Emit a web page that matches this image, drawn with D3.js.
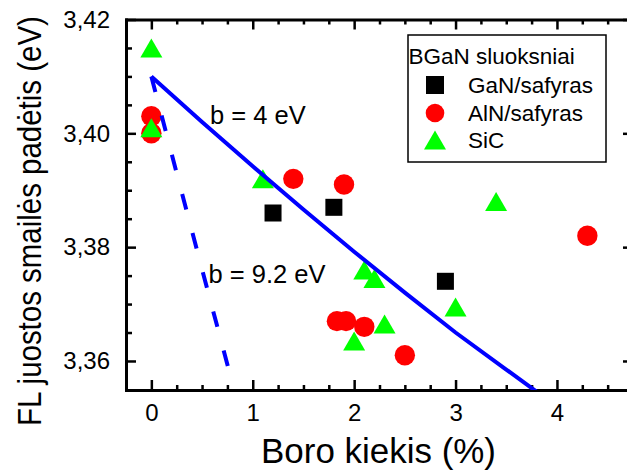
<!DOCTYPE html>
<html>
<head>
<meta charset="utf-8">
<script src="https://cdn.jsdelivr.net/npm/d3@7"></script>
<style>
  html, body { margin: 0; padding: 0; background: #fff; }
  svg { display: block; font-family: "Liberation Sans", Arial, sans-serif; }
</style>
</head>
<body>
<svg id="chart" width="627" height="470"></svg>
<script>
// Axis ticks and labels
const xTicks = [0, 1, 2, 3, 4];
const xTickLabels = ["0", "1", "2", "3", "4"];
const yTicks = [3.36, 3.38, 3.40, 3.42];
const yTickLabels = ["3,36", "3,38", "3,40", "3,42"];

// Measured band-edge PL peak positions (boron content %, eV)
const ganX = [1.2, 1.8, 2.9];
const ganY = [3.386, 3.387, 3.374];

const alnX = [0, 0, 1.4, 1.9, 1.83, 1.92, 2.1, 2.5, 4.3];
const alnY = [3.403, 3.400, 3.392, 3.391, 3.367, 3.367, 3.366, 3.361, 3.382];

const sicX = [0, 0, 1.1, 2.1, 2.2, 2.0, 2.3, 3.0, 3.4];
const sicY = [3.415, 3.401, 3.392, 3.376, 3.3745, 3.3635, 3.3665, 3.3695, 3.388];

// Bowing curves, b = 4 eV (solid) and b = 9.2 eV (dashed)
const bow4X = [0, 0.5, 1, 1.5, 2, 2.5, 3, 3.5, 3.8];
const bow4Y = [3.41, 3.402, 3.3942, 3.3866, 3.3792, 3.372, 3.365, 3.3585, 3.3546];
const bow92X = [0, 0.25, 0.5, 0.76];
const bow92Y = [3.41, 3.393, 3.3761, 3.3587];

const legendTitle = "BGaN sluoksniai";
const legendLabels = ["GaN/safyras", "AlN/safyras", "SiC"];
const FONT = '"Liberation Sans", Arial, sans-serif';

const svg = d3.select("#chart");
const plotLeft = 126, plotRight = 633, plotTop = 19.5, plotBottom = 390;

const x = d3.scaleLinear().domain([-0.25, 4.75]).range([plotLeft, plotRight]);
const y = d3.scaleLinear().domain([3.3549, 3.42]).range([plotBottom, plotTop]);

svg.append("defs").append("clipPath").attr("id", "plot-clip")
  .append("rect").attr("x", plotLeft).attr("y", plotTop)
  .attr("width", plotRight - plotLeft).attr("height", plotBottom - plotTop);

// Minor tick positions
const xMinor = d3.range(-0.25, 4.751, 0.25).filter(v => Math.abs(v - Math.round(v)) > 1e-6);
const yMinor = d3.range(3.36, 3.4201, 0.005).filter(v => !yTicks.some(t => Math.abs(t - v) < 1e-6));

function finish(g, withDomain) {
  g.attr("font-family", FONT).attr("font-size", 24);
  if (withDomain) {
    g.select(".domain").attr("stroke", "#000").attr("stroke-width", 3).attr("stroke-linecap", "square");
  } else {
    g.select(".domain").remove();
  }
  g.selectAll(".tick line").attr("stroke", "#000").attr("stroke-width", 2.5);
  g.selectAll(".tick text").attr("fill", "#000");
}

// Minor ticks
svg.append("g").attr("transform", `translate(0,${plotBottom})`)
  .call(d3.axisBottom(x).tickValues(xMinor).tickSize(-5).tickFormat(""))
  .call(g => finish(g, false));
svg.append("g").attr("transform", `translate(0,${plotTop})`)
  .call(d3.axisTop(x).tickValues(xMinor).tickSize(-5).tickFormat(""))
  .call(g => finish(g, false));
svg.append("g").attr("transform", `translate(${plotLeft},0)`)
  .call(d3.axisLeft(y).tickValues(yMinor).tickSize(-6).tickFormat(""))
  .call(g => finish(g, false));
svg.append("g").attr("transform", `translate(${plotRight},0)`)
  .call(d3.axisRight(y).tickValues(yMinor).tickSize(-6).tickFormat(""))
  .call(g => finish(g, false));

// Major ticks and frame
svg.append("g").attr("transform", `translate(0,${plotBottom})`)
  .call(d3.axisBottom(x).tickValues(xTicks).tickSize(-10).tickSizeOuter(0)
    .tickPadding(14).tickFormat((d, i) => xTickLabels[i]))
  .call(g => finish(g, true));
svg.append("g").attr("transform", `translate(0,${plotTop})`)
  .call(d3.axisTop(x).tickValues(xTicks).tickSize(-10).tickSizeOuter(0).tickFormat(""))
  .call(g => finish(g, true));
svg.append("g").attr("transform", `translate(${plotLeft},0)`)
  .call(d3.axisLeft(y).tickValues(yTicks).tickSize(-10).tickSizeOuter(0)
    .tickPadding(16).tickFormat((d, i) => yTickLabels[i]))
  .call(g => finish(g, true));
svg.append("g").attr("transform", `translate(${plotRight},0)`)
  .call(d3.axisRight(y).tickValues(yTicks).tickSize(-10).tickSizeOuter(0).tickFormat(""))
  .call(g => finish(g, true));

// Axis titles (slightly condensed face, fitted to a set run length)
function fittedTitle(txt, size, runLength, transform) {
  const t = svg.append("text")
    .attr("text-anchor", "middle").attr("font-family", FONT).attr("font-size", size)
    .attr("fill", "#000").text(txt);
  const s = runLength / t.node().getComputedTextLength();
  t.attr("transform", `${transform} scale(${s},1)`);
  return t;
}
fittedTitle("Boro kiekis (%)", 35, 235, `translate(${(plotLeft + plotRight) / 2 - 1},462.5)`);
fittedTitle("FL juostos smailės padėtis (eV)", 33, 410, "translate(41,221) rotate(-90)");

// Markers
const plot = svg.append("g").attr("clip-path", "url(#plot-clip)");
const SQ = 17, R = 10.2, TW = 22, TH = 19;
const triPath = (cx, cy) =>
  `M${cx},${cy - TH / 2}L${cx + TW / 2},${cy + TH / 2}L${cx - TW / 2},${cy + TH / 2}Z`;

plot.selectAll("rect.gan").data(d3.zip(ganX, ganY)).join("rect")
  .attr("class", "gan")
  .attr("x", d => x(d[0]) - SQ / 2).attr("y", d => y(d[1]) - SQ / 2)
  .attr("width", SQ).attr("height", SQ).attr("fill", "#000");

plot.selectAll("circle.aln").data(d3.zip(alnX, alnY)).join("circle")
  .attr("class", "aln")
  .attr("cx", d => x(d[0])).attr("cy", d => y(d[1])).attr("r", R).attr("fill", "#ff0000");

plot.selectAll("path.sic").data(d3.zip(sicX, sicY)).join("path")
  .attr("class", "sic")
  .attr("d", d => triPath(x(d[0]), y(d[1]))).attr("fill", "#00ff00");

// Bowing curves
const line = d3.line().x(d => x(d[0])).y(d => y(d[1]));
plot.append("path").datum(d3.zip(bow4X, bow4Y))
  .attr("d", line).attr("fill", "none").attr("stroke", "#0000ff").attr("stroke-width", 4);
plot.append("path").datum(d3.zip(bow92X, bow92Y))
  .attr("d", line).attr("fill", "none").attr("stroke", "#0000ff").attr("stroke-width", 4)
  .attr("stroke-dasharray", "16 24.5");

// Curve annotations
svg.append("text").attr("x", 210).attr("y", 124.3)
  .attr("font-family", FONT).attr("font-size", 25.5).attr("fill", "#000").text("b = 4 eV");
svg.append("text").attr("x", 208.5).attr("y", 283.3)
  .attr("font-family", FONT).attr("font-size", 25.5).attr("fill", "#000").text("b = 9.2 eV");

// Legend
const lg = svg.append("g");
lg.append("rect").attr("x", 408).attr("y", 35).attr("width", 198).attr("height", 127)
  .attr("fill", "#fff").attr("stroke", "#000").attr("stroke-width", 1.5);
lg.append("text").attr("x", 408.5).attr("y", 64)
  .attr("font-family", FONT).attr("font-size", 22.5).attr("fill", "#000").text(legendTitle);

const lx = 435, rows = [85, 113, 140];
lg.append("rect").attr("x", lx - 9).attr("y", rows[0] - 9).attr("width", 18).attr("height", 18).attr("fill", "#000");
lg.append("circle").attr("cx", lx).attr("cy", rows[1]).attr("r", 9.3).attr("fill", "#ff0000");
lg.append("path").attr("d", triPath(lx, rows[2])).attr("fill", "#00ff00");

lg.selectAll("text.item").data(legendLabels).join("text")
  .attr("class", "item")
  .attr("x", 468).attr("y", (d, i) => rows[i] + 8)
  .attr("font-family", FONT).attr("font-size", 22.5).attr("fill", "#000")
  .text(d => d);
</script>
</body>
</html>
